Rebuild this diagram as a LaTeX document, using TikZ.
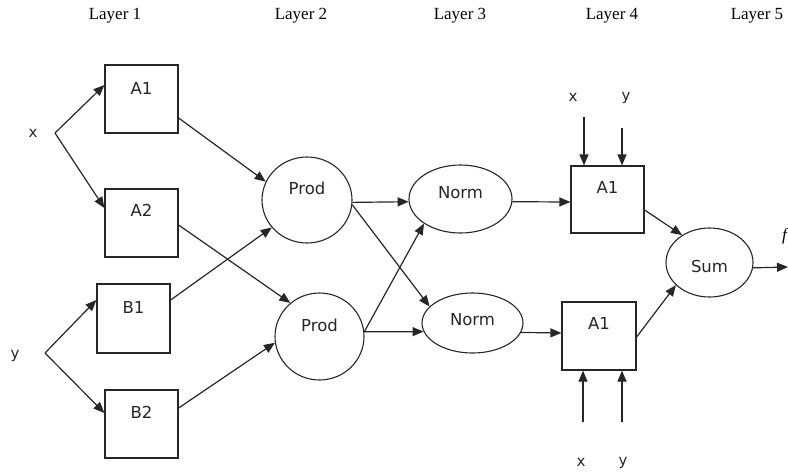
\documentclass[tikz,border=0pt]{standalone}
\usepackage{fontspec}
\setmainfont{Liberation Serif}
\newfontfamily\lblfont{DejaVu Sans}
\usetikzlibrary{arrows.meta,shapes.geometric}
\tikzset{
  conn/.style={line width=1.2pt,draw=black!85,-{Triangle[length=11pt,width=9pt]}},
  boxn/.style={draw=black!85,line width=1.2pt,rectangle,inner sep=0pt},
  elln/.style={draw=black!85,line width=1.1pt,ellipse,inner sep=0pt},
  txt/.style={font=\lblfont\fontsize{16.5}{18}\selectfont,inner sep=0pt,text=black!85},
  small/.style={font=\lblfont\fontsize{15}{17}\selectfont,inner sep=0pt,text=black!85},
  layer/.style={font=\fontsize{17}{19}\selectfont,inner sep=0pt}
}
\begin{document}
\begin{tikzpicture}[x=1pt,y=-1pt]
\useasboundingbox (0,0) rectangle (788,472);
% layer titles
\node[layer] (L1) at (115,16) {Layer 1};
\node[layer] (L2) at (301,16) {Layer 2};
\node[layer] (L3) at (460,16) {Layer 3};
\node[layer] (L4) at (612,16) {Layer 4};
\node[layer] (L5) at (757,16) {Layer 5};
% layer 1 boxes
\node[boxn,minimum width=73pt,minimum height=68pt] (A1) at (141.5,99) {};
\node[boxn,minimum width=73pt,minimum height=68pt] (A2) at (141.5,223) {};
\node[boxn,minimum width=73pt,minimum height=69pt] (B1) at (133.5,318.5) {};
\node[boxn,minimum width=73pt,minimum height=68pt] (B2) at (141.5,424) {};
\node[txt] (A1t) at (141.5,88) {A1};
\node[txt] (A2t) at (141.5,210) {A2};
\node[txt] (B1t) at (133.5,307) {B1};
\node[txt] (B2t) at (141.5,412) {B2};
% layer 2
\node[elln,minimum width=90pt,minimum height=86pt] (P1) at (307,200) {};
\node[elln,minimum width=89pt,minimum height=87pt] (P2) at (319.5,336.5) {};
\node[txt] (P1t) at (307,188) {Prod};
\node[txt] (P2t) at (319.5,325) {Prod};
% layer 3
\node[elln,minimum width=103pt,minimum height=68pt] (N1) at (460.5,199) {};
\node[elln,minimum width=101pt,minimum height=60pt] (N2) at (472.5,323) {};
\node[txt] (N1t) at (460.5,193) {Norm};
\node[txt] (N2t) at (472.5,320) {Norm};
% layer 4
\node[boxn,minimum width=73pt,minimum height=67pt] (T) at (607.5,199.5) {};
\node[boxn,minimum width=74pt,minimum height=68pt] (B) at (599,336) {};
\node[txt] (Tt) at (607.5,187) {A1};
\node[txt] (Bt) at (599,323) {A1};
% layer 5
\node[elln,minimum width=87pt,minimum height=69pt] (S) at (709.5,262.5) {};
\node[txt] (St) at (709.5,266) {Sum};
% inputs
\node[small] (xin) at (33,133) {x};
\node[small] (yin) at (15,356) {y};
\coordinate (xf) at (55,133);
\coordinate (yf) at (45,353);
\node[small] (tx) at (573,97) {x};
\node[small] (ty) at (626,98) {y};
\node[small] (bx) at (581,462) {x};
\node[small] (by) at (623,463) {y};
\coordinate (tx0) at (584,117);
\coordinate (ty0) at (622,128);
\coordinate (bx0) at (583,422);
\coordinate (by0) at (622,422);
\coordinate (out) at (788,267);
\node[font=\itshape\fontsize{17}{19}\selectfont,inner sep=0pt,anchor=east] (fout) at (787,236) {f};
% connectors layer 1
\draw[conn] (xf) -- ([yshift=14pt]A1.west);
\draw[conn] (xf) -- ([yshift=15pt]A2.west);
\draw[conn] (yf) -- ([yshift=18.5pt]B1.west);
\draw[conn] (yf) -- ([yshift=11pt]B2.west);
% layer 1 -> 2
\draw[conn] ([yshift=-19pt]A1.east) -- (P1.156);
\draw[conn] ([yshift=-2pt]A2.east) -- (P2.131);
\draw[conn] ([yshift=18.5pt]B1.east) -- (P1.218);
\draw[conn] ([yshift=16pt]B2.east) -- (P2.188);
% layer 2 -> 3
\draw[conn] (P1.-3) -- (N1.183.5);
\draw[conn] (P1.-6) -- (N2.159);
\draw[conn] (P2.6) -- (N2.190.6);
\draw[conn] (P2.6) -- (N1.214.7);
% layer 3 -> 4
\draw[conn] (N1.-3.5) -- ([yshift=-2.5pt]T.west);
\draw[conn] (N2.-11.9) -- ([yshift=3pt]B.west);
% layer 4 inputs
\draw[conn] (tx0) -- ([xshift=-23.5pt]T.north);
\draw[conn] (ty0) -- ([xshift=14.5pt]T.north);
\draw[conn] (bx0) -- ([xshift=-16pt]B.south);
\draw[conn] (by0) -- ([xshift=23pt]B.south);
% layer 4 -> 5
\draw[conn] ([yshift=-10.5pt]T.east) -- (S.135);
\draw[conn] ([yshift=-1pt]B.east) -- (S.214);
\draw[conn] (S.-7) -- (out);
\end{tikzpicture}
\end{document}
